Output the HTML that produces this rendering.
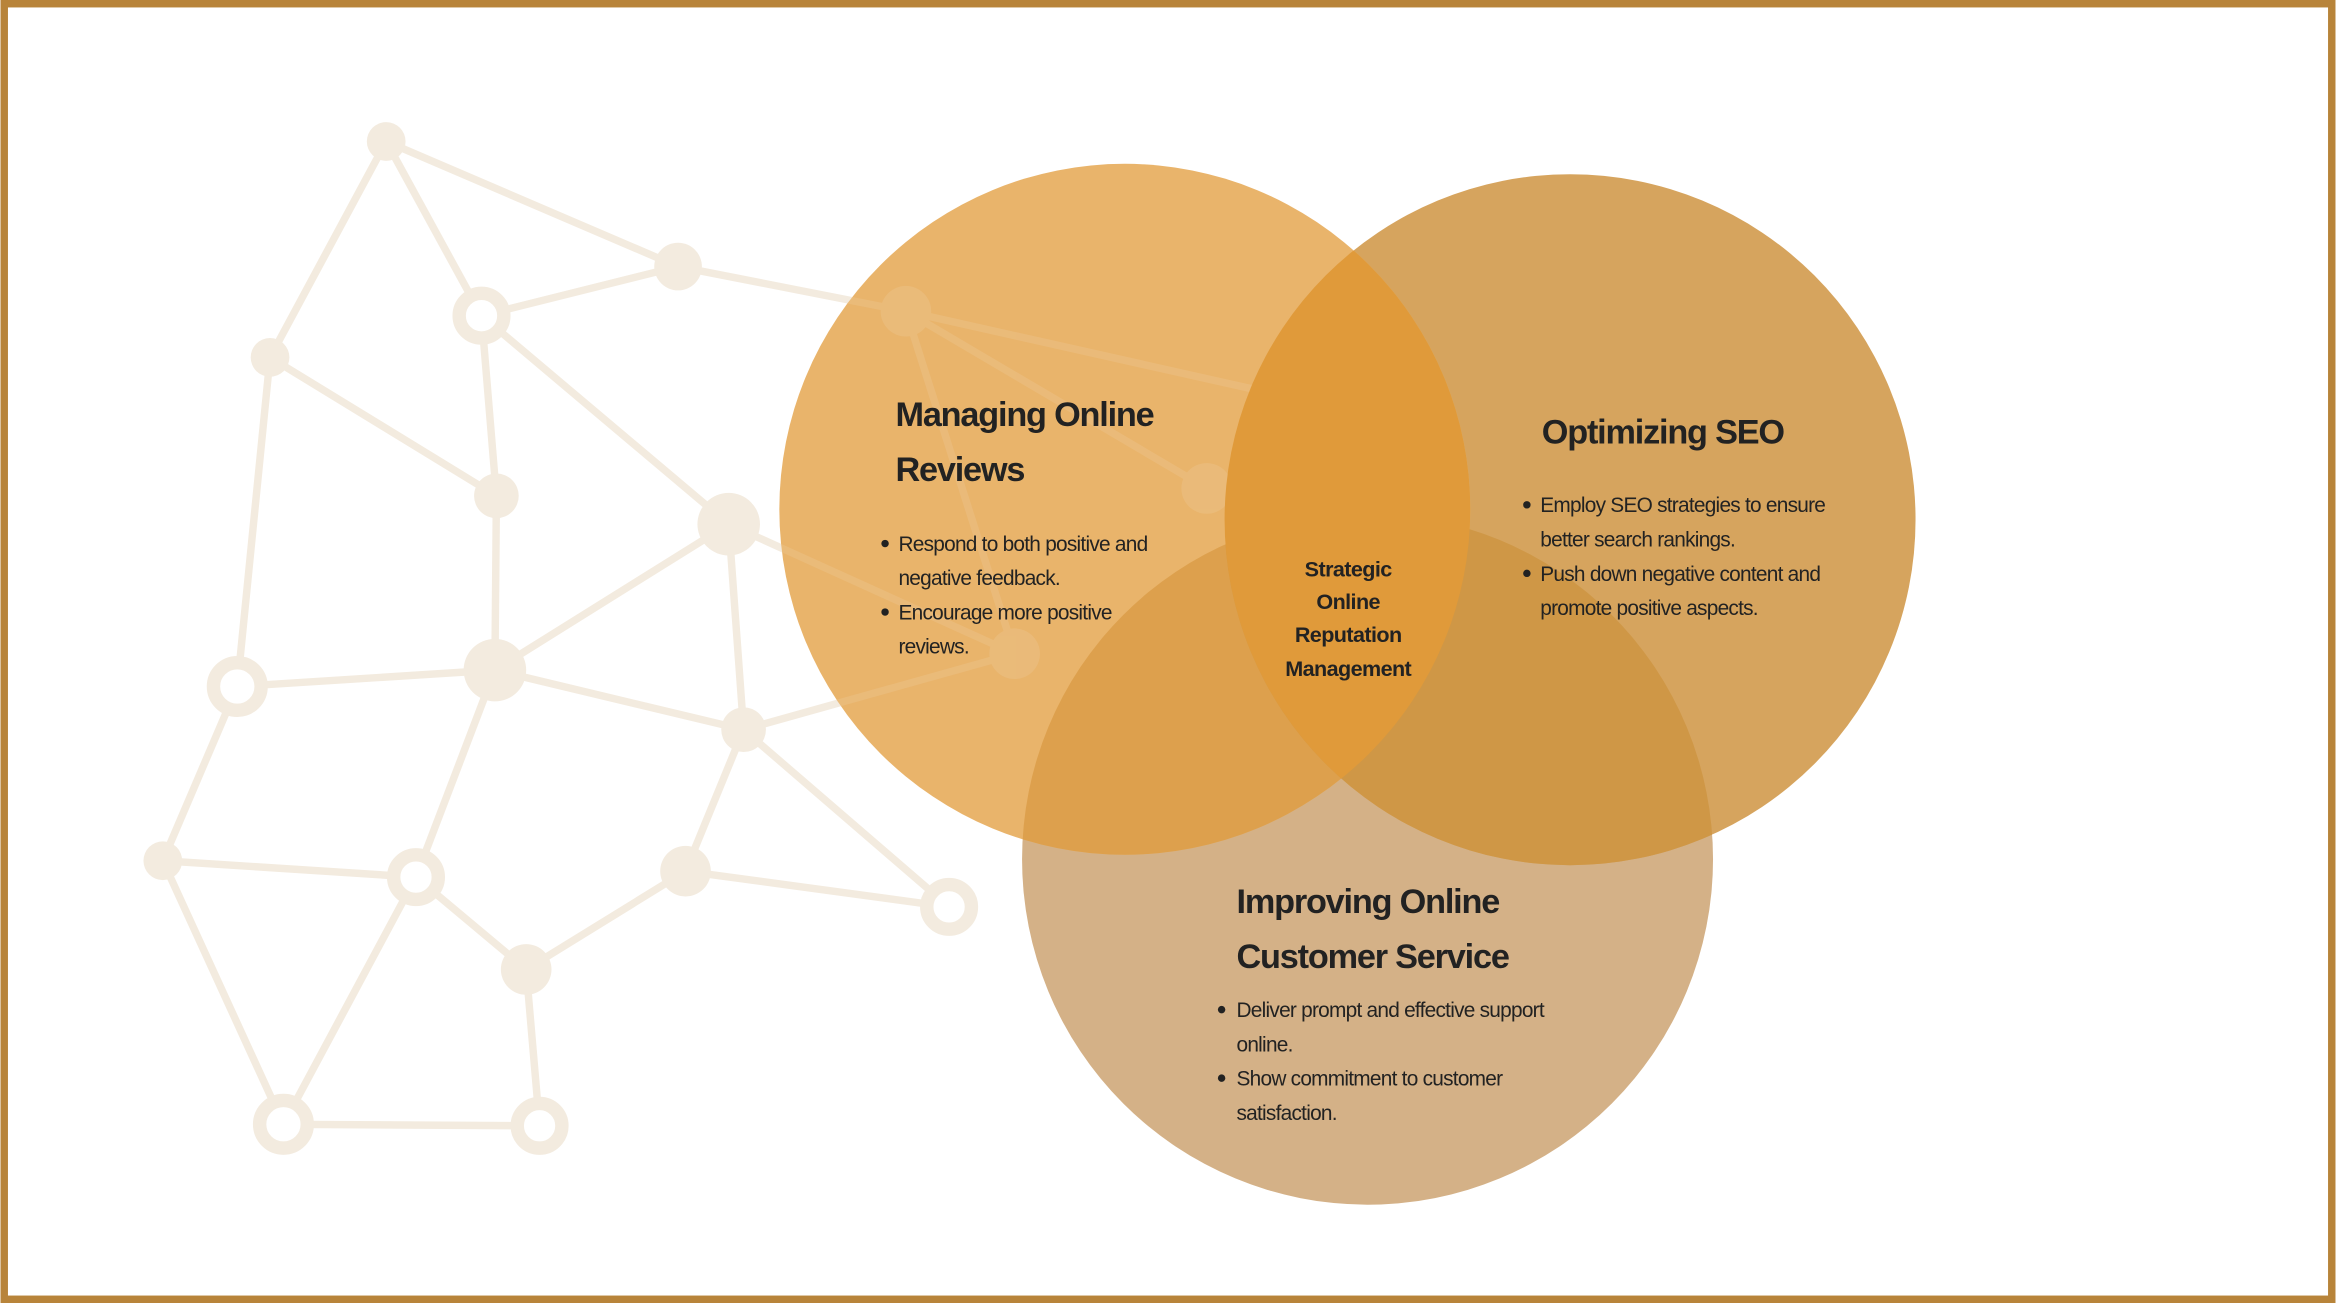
<!DOCTYPE html>
<html><head><meta charset="utf-8"><style>
html,body{margin:0;padding:0;background:#fff;}
svg{display:block;}
text{font-family:"Liberation Sans",sans-serif;fill:#222;}
.t{font-size:23px;font-weight:bold;letter-spacing:-0.8px;}
.b{font-size:14px;letter-spacing:-0.5px;}
.c{font-size:14.5px;font-weight:bold;letter-spacing:-0.4px;}
</style></head><body>
<svg width="2336" height="1303" viewBox="0 0 1568 875" xmlns="http://www.w3.org/2000/svg">
<defs>
<clipPath id="cA"><circle cx="755" cy="342" r="232"/></clipPath>
<clipPath id="cB"><circle cx="1054" cy="349" r="232"/></clipPath>
<clipPath id="cC"><circle cx="918" cy="577" r="232"/></clipPath>
<g id="net">
<g stroke="#f3ebdf" stroke-width="5" fill="none">
<line x1="259" y1="95" x2="323" y2="212"/><line x1="259" y1="95" x2="181" y2="240"/><line x1="259" y1="95" x2="455" y2="179"/>
<line x1="455" y1="179" x2="608" y2="209"/><line x1="323" y1="212" x2="455" y2="179"/><line x1="323" y1="212" x2="333" y2="333"/>
<line x1="323" y1="212" x2="489" y2="352"/><line x1="181" y1="240" x2="333" y2="333"/><line x1="181" y1="240" x2="159" y2="461"/>
<line x1="608" y1="209" x2="880" y2="270"/><line x1="608" y1="209" x2="810" y2="328"/><line x1="489" y1="352" x2="332" y2="450"/>
<line x1="489" y1="352" x2="499" y2="490"/><line x1="489" y1="352" x2="681" y2="439"/><line x1="332" y1="450" x2="159" y2="461"/>
<line x1="332" y1="450" x2="333" y2="333"/><line x1="332" y1="450" x2="499" y2="490"/><line x1="332" y1="450" x2="279" y2="589"/>
<line x1="159" y1="461" x2="109" y2="578"/><line x1="109" y1="578" x2="279" y2="589"/><line x1="109" y1="578" x2="190" y2="755"/>
<line x1="279" y1="589" x2="190" y2="755"/><line x1="279" y1="589" x2="353" y2="651"/><line x1="353" y1="651" x2="460" y2="585"/>
<line x1="353" y1="651" x2="362" y2="756"/><line x1="190" y1="755" x2="362" y2="756"/><line x1="460" y1="585" x2="499" y2="490"/>
<line x1="460" y1="585" x2="637" y2="609"/><line x1="499" y1="490" x2="637" y2="609"/><line x1="499" y1="490" x2="681" y2="439"/>
<line x1="608" y1="209" x2="681" y2="439"/>
</g>
<g fill="#f3ebdf">
<circle cx="259" cy="95" r="13"/><circle cx="455" cy="179" r="16"/><circle cx="181" cy="240" r="13"/><circle cx="333" cy="333" r="15"/>
<circle cx="489" cy="352" r="21"/><circle cx="608" cy="209" r="17"/><circle cx="332" cy="450" r="21"/><circle cx="499" cy="490" r="15"/>
<circle cx="109" cy="578" r="13"/><circle cx="460" cy="585" r="17"/><circle cx="353" cy="651" r="17"/><circle cx="681" cy="439" r="17"/>
<circle cx="810" cy="328" r="17"/>
</g>
<g fill="#fff" stroke="#f3ebdf" stroke-width="9">
<circle cx="323" cy="212" r="15"/><circle cx="159" cy="461" r="16"/><circle cx="279" cy="589" r="15"/>
<circle cx="637" cy="609" r="15"/><circle cx="190" cy="755" r="16"/><circle cx="362" cy="756" r="15"/>
</g>
</g>
</defs>
<rect width="1568" height="875" fill="#fff"/>
<use href="#net"/>
<circle cx="918" cy="577" r="232" fill="#d4b187"/>
<circle cx="1054" cy="349" r="232" fill="#d6a45e"/>
<circle cx="755" cy="342" r="232" fill="#e9b46b"/>
<g clip-path="url(#cA)" opacity="0.12"><use href="#net"/></g>
<g clip-path="url(#cC)"><circle cx="755" cy="342" r="232" fill="#dda04d"/><circle cx="1054" cy="349" r="232" fill="#cf9746"/></g>
<g clip-path="url(#cA)"><circle cx="1054" cy="349" r="232" fill="#e09a3a"/></g>
<rect x="2.5" y="2.5" width="1563" height="870" fill="none" stroke="#b8843a" stroke-width="5"/>

<text class="t" x="601" y="286">Managing Online</text>
<text class="t" x="601" y="323">Reviews</text>
<circle cx="594" cy="365" r="2.5" fill="#222"/><circle cx="594" cy="411" r="2.5" fill="#222"/>
<text class="b" x="603" y="370">Respond to both positive and</text>
<text class="b" x="603" y="393">negative feedback.</text>
<text class="b" x="603" y="416">Encourage more positive</text>
<text class="b" x="603" y="439">reviews.</text>

<text class="t" x="1035" y="298">Optimizing SEO</text>
<circle cx="1025" cy="339" r="2.5" fill="#222"/><circle cx="1025" cy="385" r="2.5" fill="#222"/>
<text class="b" x="1034" y="344">Employ SEO strategies to ensure</text>
<text class="b" x="1034" y="367">better search rankings.</text>
<text class="b" x="1034" y="390">Push down negative content and</text>
<text class="b" x="1034" y="413">promote positive aspects.</text>

<text class="c" x="905" y="387" text-anchor="middle">Strategic</text>
<text class="c" x="905" y="409" text-anchor="middle">Online</text>
<text class="c" x="905" y="431" text-anchor="middle">Reputation</text>
<text class="c" x="905" y="454" text-anchor="middle">Management</text>

<text class="t" x="830" y="613">Improving Online</text>
<text class="t" x="830" y="650">Customer Service</text>
<circle cx="820" cy="678" r="2.5" fill="#222"/><circle cx="820" cy="724" r="2.5" fill="#222"/>
<text class="b" x="830" y="683">Deliver prompt and effective support</text>
<text class="b" x="830" y="706">online.</text>
<text class="b" x="830" y="729">Show commitment to customer</text>
<text class="b" x="830" y="752">satisfaction.</text>
</svg>
</body></html>
